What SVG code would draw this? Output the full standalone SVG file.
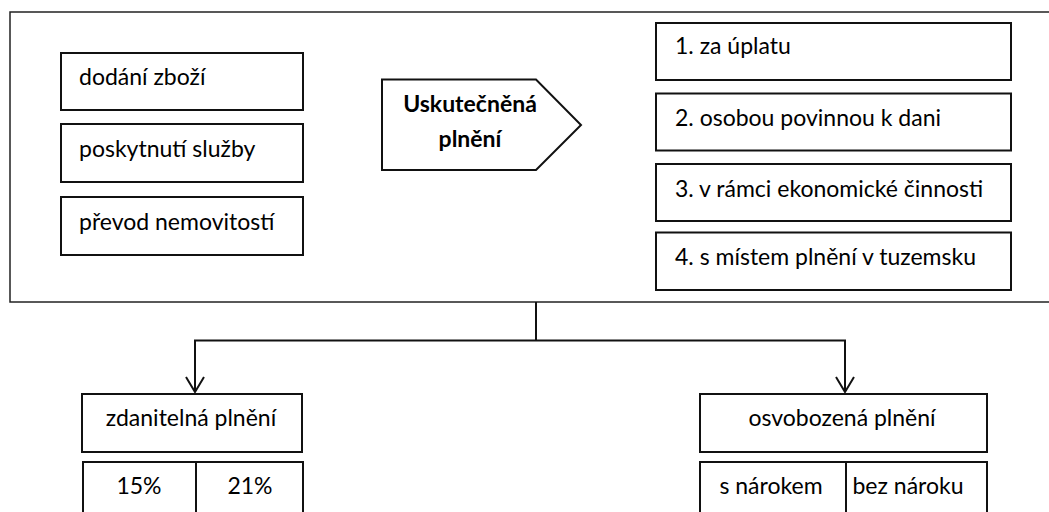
<svg xmlns="http://www.w3.org/2000/svg" width="1049" height="512" viewBox="0 0 1049 512">
  <style>
    .box { fill: #fff; stroke: #111; stroke-width: 2; }
    .frame { fill: #fff; stroke: #222; stroke-width: 1.5; }
    .t { font-family: Lato, "Open Sans", sans-serif; font-size: 23px; fill: #000; }
    .b { font-weight: bold; }
    .c { text-anchor: middle; }
    .wire { fill: none; stroke: #111; stroke-width: 2; }
  </style>
  <defs>
    <marker id="vee" viewBox="0 0 20 20" refX="19" refY="10" markerWidth="20" markerHeight="20" markerUnits="userSpaceOnUse" orient="auto">
      <path d="M4,1 L19,10 L4,19" fill="none" stroke="#111" stroke-width="2"/>
    </marker>
  </defs>

  <rect width="1049" height="512" fill="#fff"/>

  <!-- outer frame, open on the right edge -->
  <g id="frame">
    <rect class="frame" x="10" y="12" width="1050" height="290"/>
  </g>

  <!-- kinds of supply -->
  <g id="dodani">
    <rect class="box" x="61" y="53" width="242" height="57"/>
    <text class="t" x="79" y="85">dodání zboží</text>
  </g>
  <g id="sluzby">
    <rect class="box" x="61" y="124" width="242" height="58"/>
    <text class="t" x="79" y="157">poskytnutí služby</text>
  </g>
  <g id="nemovitosti">
    <rect class="box" x="61" y="197" width="242" height="58"/>
    <text class="t" x="79" y="230">převod nemovitostí</text>
  </g>

  <!-- central pentagon -->
  <g id="uskutecnena">
    <path class="box" d="M382,79.5 L536,79.5 L581,125 L536,170 L382,170 Z"/>
    <text class="t b c" x="470" y="112">Uskutečněná</text>
    <text class="t b c" x="470" y="147">plnění</text>
  </g>

  <!-- conditions -->
  <g id="podminka1">
    <rect class="box" x="656" y="23" width="355" height="57"/>
    <text class="t" x="675" y="54">1. za úplatu</text>
  </g>
  <g id="podminka2">
    <rect class="box" x="656" y="93.5" width="355" height="57"/>
    <text class="t" x="675" y="126">2. osobou povinnou k dani</text>
  </g>
  <g id="podminka3">
    <rect class="box" x="656" y="164" width="355" height="57"/>
    <text class="t" x="675" y="197">3. v rámci ekonomické činnosti</text>
  </g>
  <g id="podminka4">
    <rect class="box" x="656" y="232.5" width="355" height="57.5"/>
    <text class="t" x="675" y="265">4. s místem plnění v tuzemsku</text>
  </g>

  <!-- connectors -->
  <g id="connectors">
    <path class="wire" d="M536,302 L536,340.5"/>
    <path class="wire" d="M536,340.5 L195,340.5 L195,392" marker-end="url(#vee)"/>
    <path class="wire" d="M536,340.5 L845,340.5 L845,392" marker-end="url(#vee)"/>
  </g>

  <!-- taxable supplies -->
  <g id="zdanitelna">
    <rect class="box" x="82" y="394" width="220" height="58"/>
    <text class="t c" x="191" y="426">zdanitelná plnění</text>
  </g>
  <g id="sazby">
    <rect class="box" x="83" y="462" width="220" height="60"/>
    <line class="wire" x1="196" y1="462" x2="196" y2="522"/>
    <text class="t c" x="139" y="494">15%</text>
    <text class="t c" x="250" y="494">21%</text>
  </g>

  <!-- exempt supplies -->
  <g id="osvobozena">
    <rect class="box" x="700" y="394" width="287" height="58"/>
    <text class="t c" x="842" y="426">osvobozená plnění</text>
  </g>
  <g id="narok">
    <rect class="box" x="700" y="462" width="287" height="60"/>
    <line class="wire" x1="846" y1="462" x2="846" y2="522"/>
    <text class="t c" x="771" y="494">s nárokem</text>
    <text class="t c" x="908" y="494">bez nároku</text>
  </g>
</svg>
